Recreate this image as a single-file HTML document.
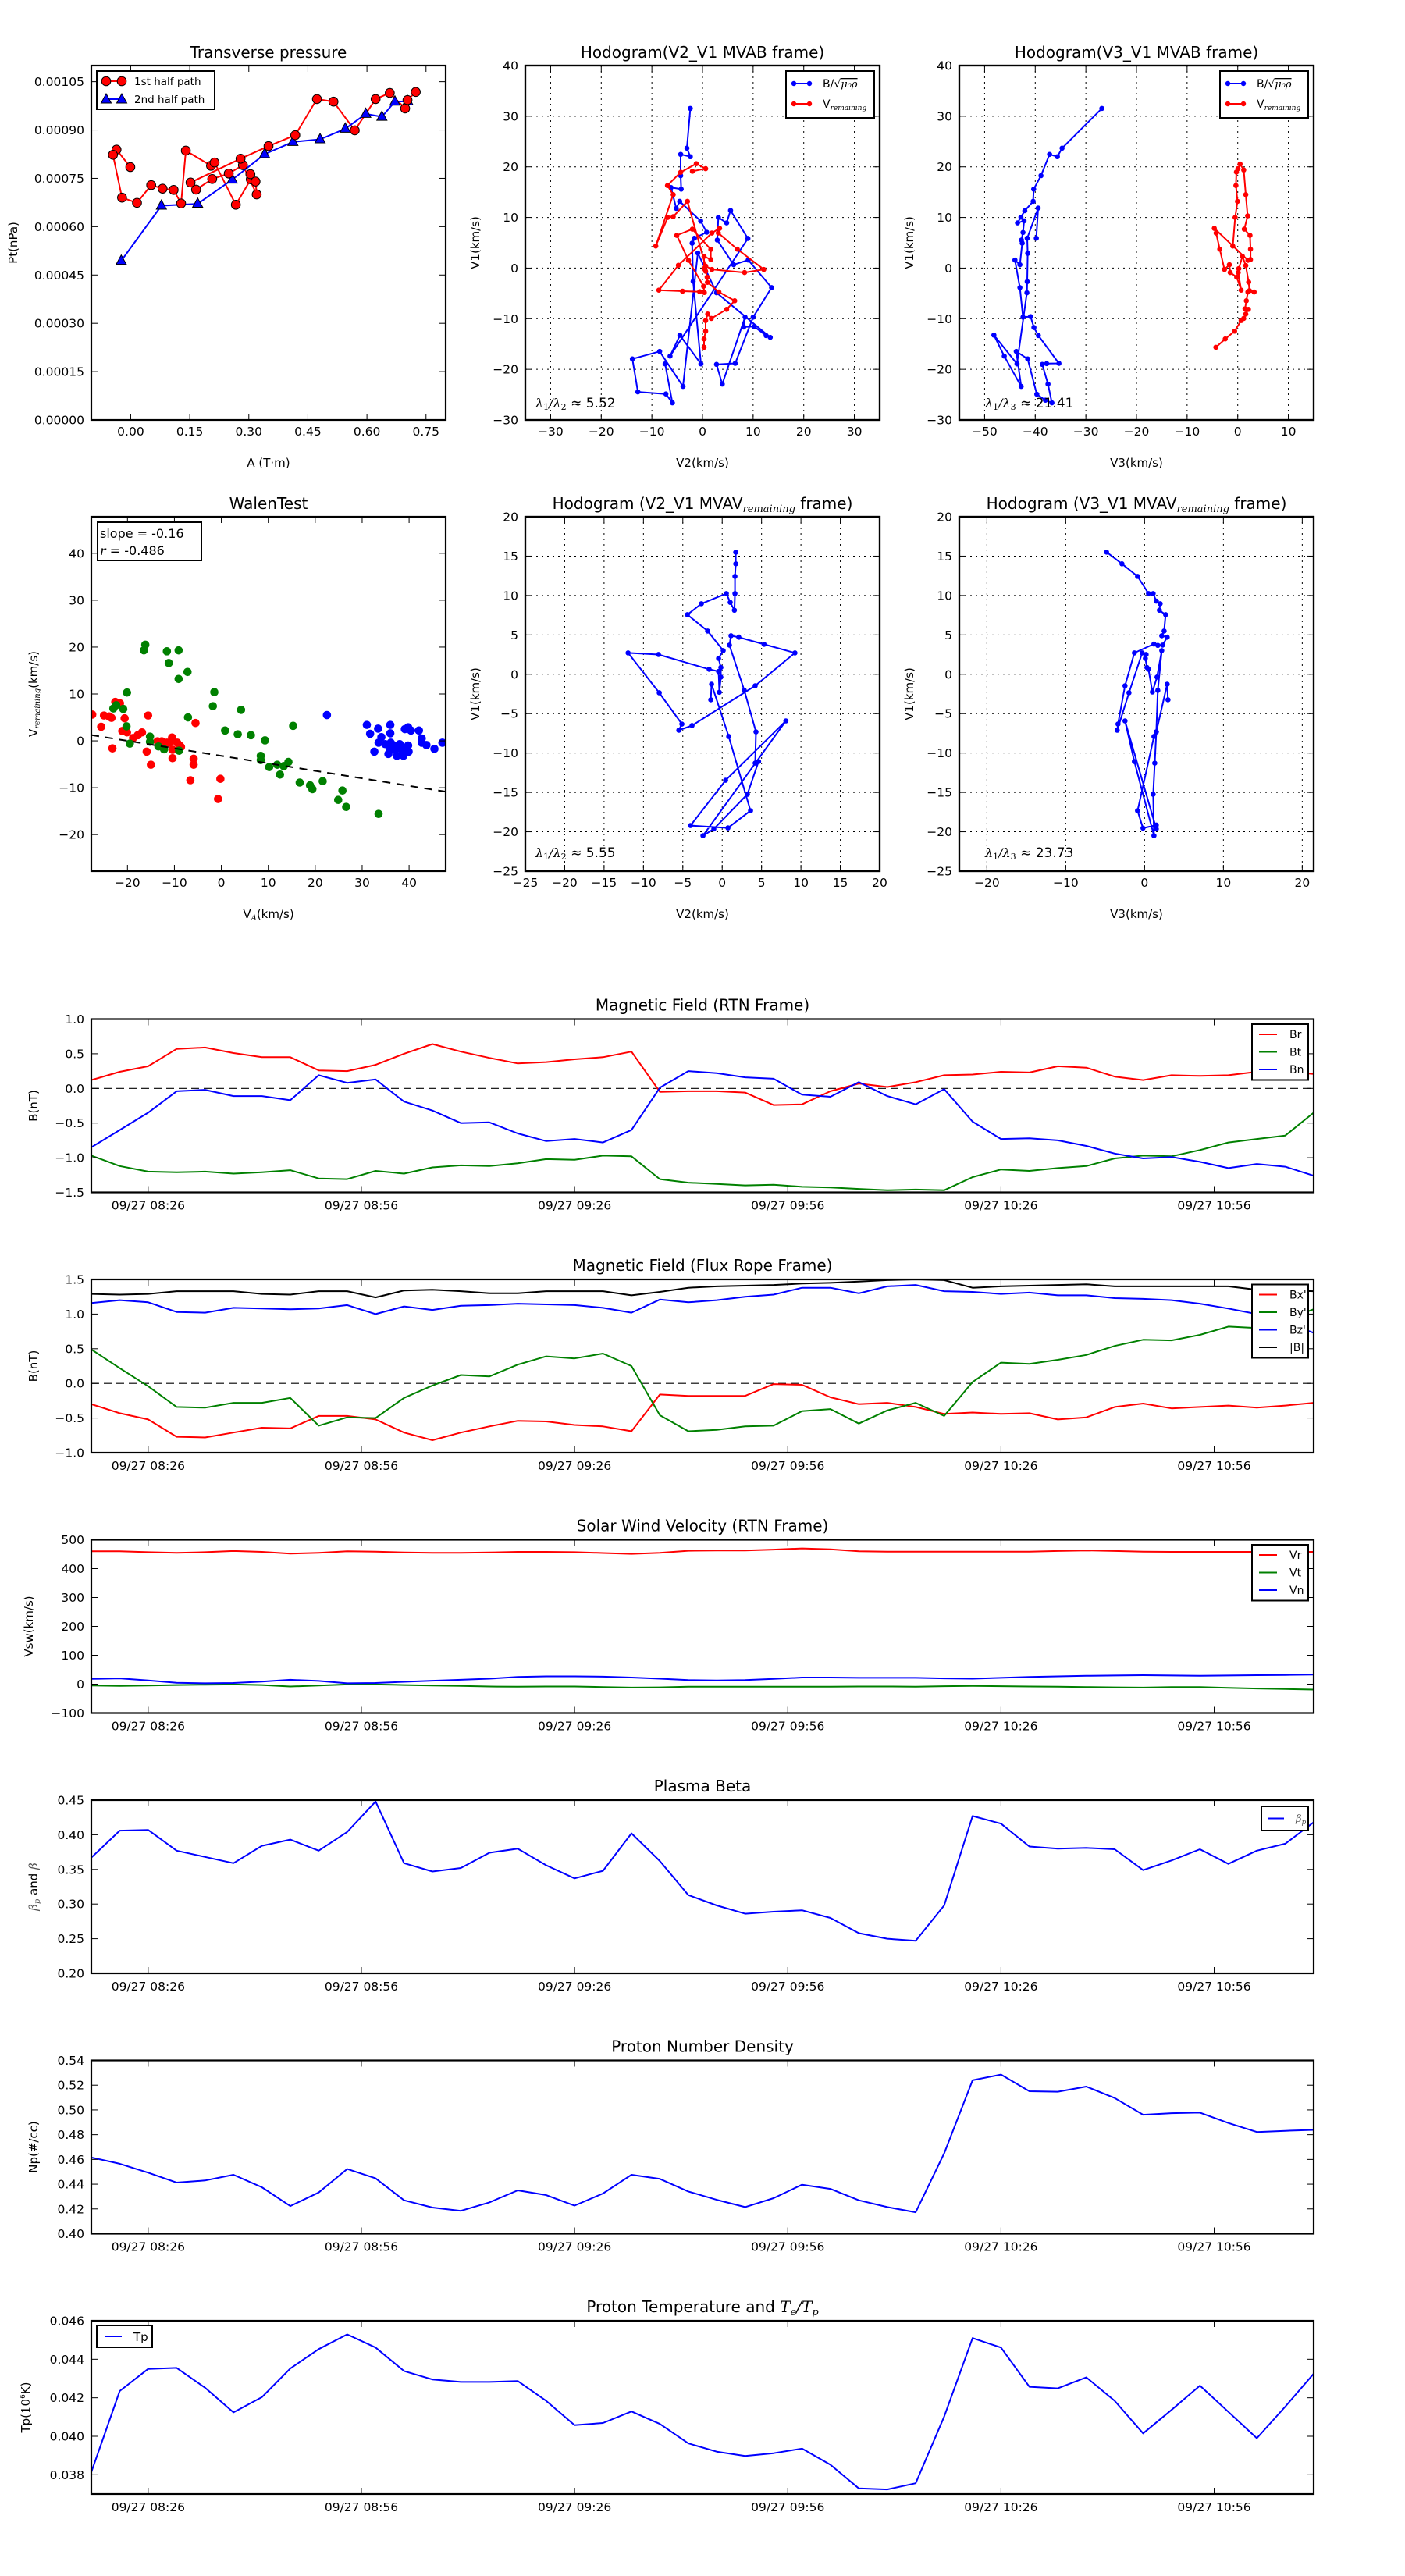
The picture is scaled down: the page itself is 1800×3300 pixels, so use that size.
<!DOCTYPE html>
<html><head><meta charset="utf-8">
<style>
body{margin:0;background:#fff}
svg{display:block;font-family:"DejaVu Sans","Liberation Sans",sans-serif}
</style></head>
<body>
<svg id="fig" width="1800" height="3300" viewBox="0 0 1800 3300"></svg>
<script>
// ---------------- DATA ----------------
// Transverse pressure
const ptFirstA=[-0.001,-0.036,-0.045,-0.022,0.016,0.052,0.081,0.109,0.128,0.140,0.204,0.213,0.267,0.305,0.304,0.317,0.320,0.285,0.249,0.207,0.166,0.152,0.279,0.350,0.418,0.473,0.515,0.569,0.622,0.658,0.697,0.703,0.724];
const ptFirstP=[0.000785,0.000839,0.000823,0.000690,0.000674,0.000729,0.000718,0.000714,0.000672,0.000836,0.000789,0.000799,0.000668,0.000747,0.000763,0.000740,0.000700,0.000791,0.000765,0.000748,0.000715,0.000737,0.000811,0.000850,0.000884,0.000996,0.000988,0.000899,0.000996,0.001015,0.000967,0.000993,0.001018];
const ptSecondA=[-0.024,0.078,0.170,0.258,0.340,0.412,0.481,0.545,0.597,0.638,0.671,0.704];
const ptSecondP=[0.000494,0.000665,0.000671,0.000746,0.000825,0.000863,0.000871,0.000904,0.000950,0.000941,0.000988,0.000989];
const ptXTicks=[0,0.15,0.30,0.45,0.60,0.75];
const ptXLabels=["0.00","0.15","0.30","0.45","0.60","0.75"];
const ptYTicks=[0,0.00015,0.0003,0.00045,0.0006,0.00075,0.0009,0.00105];
const ptYLabels=["0.00000","0.00015","0.00030","0.00045","0.00060","0.00075","0.00090","0.00105"];

// Hodogram V2_V1 MVAB
const h1BV2=[-2.41,-3.08,-2.41,-4.31,-4.31,-4.21,-6.21,-5.18,-4.51,-0.36,0.82,-1.59,-2.05,-1.85,-0.31,-4.46,-6.41,8.97,5.54,4.77,3.13,2.92,6.15,9.03,13.64,10.0,6.46,2.77,3.90,8.41,8.15,10.21,12.56,13.38,2.77,-0.92,-3.85,-8.46,-13.85,-12.77,-7.23,-5.95,-7.38];
const h1BV1=[31.54,23.69,22.0,22.46,18.26,15.59,15.90,11.79,13.18,9.28,7.08,5.90,4.92,-2.62,-18.92,-13.28,-17.38,5.85,11.38,8.92,10.0,5.54,0.67,1.59,-3.85,-9.69,-18.82,-19.03,-22.92,-9.69,-11.64,-11.54,-13.33,-13.69,-4.87,2.97,-23.38,-16.46,-17.95,-24.46,-24.87,-26.62,-18.92];
const h1VV2=[0.31,0.31,0.62,0.62,1.03,1.74,4.77,6.36,3.23,0.97,0.92,0.62,0.31,0.31,1.64,1.64,-2.0,-5.08,-2.77,0.21,0.36,-0.56,-3.95,-8.62,-4.77,1.85,3.38,3.13,6.87,12.10,8.31,1.85,0.62,-2.97,-5.79,-6.87,-9.23,-5.79,-6.92,-4.31,-1.23,0.62,-2.0];
const h1VV1=[-15.64,-14.0,-12.46,-10.36,-9.08,-9.95,-8.15,-6.46,-4.72,-2.82,-1.79,-0.62,-0.10,2.31,1.69,3.69,7.69,6.46,1.54,-3.59,-4.82,-4.67,-4.56,-4.36,0.56,6.92,7.85,6.92,3.74,-0.26,-0.87,-0.26,0.41,13.18,10.15,10.0,4.36,14.51,16.31,18.92,20.62,19.64,19.13];

// Hodogram V3_V1 MVAB
const h2BV3=[-26.84,-34.70,-35.63,-37.17,-38.87,-40.31,-40.41,-42.06,-42.83,-43.50,-42.21,-42.42,-42.72,-42.57,-43.03,-44.01,-43.03,-42.42,-40.93,-40.26,-39.38,-35.32,-37.74,-38.61,-37.48,-36.71,-37.99,-39.69,-41.49,-43.75,-42.78,-46.12,-48.17,-43.60,-41.65,-41.59,-41.49,-41.59,-39.43,-39.79];
const h2BV1=[31.54,23.69,22.0,22.46,18.26,15.59,13.18,11.33,10.05,8.92,9.33,7.03,5.54,4.92,0.67,1.59,-3.85,-9.69,-9.59,-11.74,-13.33,-18.82,-18.87,-19.03,-22.92,-26.62,-26.10,-24.92,-17.95,-16.46,-23.38,-17.38,-13.23,-18.92,-4.87,-2.67,2.92,5.90,11.85,5.90];
const h2VV3=[-4.32,-2.47,-0.62,0.67,1.18,1.59,2.11,1.44,1.70,2.01,3.24,2.31,2.16,1.59,0.93,0.21,0.10,0.67,-0.21,-1.49,-1.65,-2.62,-3.55,-4.27,-4.63,2.01,2.52,2.52,2.42,1.29,1.95,1.59,1.18,0.46,0.05,-0.26,-0.36,-0.05,-0.51,-0.98];
const h2VV1=[-15.64,-14.0,-12.46,-10.36,-9.95,-9.08,-8.15,-8.05,-6.46,-4.72,-4.72,-4.46,-2.77,0.51,2.31,-0.10,-0.87,-4.36,-1.79,-0.87,0.67,-0.26,3.74,6.92,7.85,1.54,1.69,3.74,6.46,7.69,10.31,14.51,19.38,20.56,19.64,18.97,16.31,13.18,10.0,4.36];

// Walen test
const walRedX=[-27.5,-25.6,-25.0,-23.9,-23.4,-23.2,-22.6,-21.6,-20.6,-21.1,-20.1,-18.8,-17.8,-16.9,-15.9,-15.6,-15.0,-13.6,-12.7,-11.6,-10.5,-10.4,-10.4,-9.4,-8.9,-8.6,-6.6,-5.9,-5.9,-5.5,-0.7,-0.2,-13.3,-11.1];
const walRedY=[5.6,3.0,5.4,5.2,4.9,-1.6,8.3,8.0,4.8,2.1,1.8,0.6,1.2,1.8,-2.3,5.4,-5.1,-0.1,-0.1,-0.4,0.7,-1.9,-3.7,-0.4,-1.0,-1.3,-8.4,-3.8,-5.1,3.8,-12.4,-8.1,-0.7,-0.4];
const walGreenX=[-20.1,-20.9,-23.0,-22.4,-20.2,-19.5,-16.5,-16.2,-15.2,-15.2,-13.4,-12.2,-11.6,-11.2,-9.1,-9.1,-9.0,-7.2,-7.1,-1.8,-1.5,0.8,3.5,4.2,6.3,9.3,8.4,8.4,10.2,11.9,12.5,13.3,14.3,15.3,16.7,18.9,19.4,21.6,24.9,25.8,26.6,33.5];
const walGreenY=[10.3,6.8,6.9,7.6,3.1,-0.6,19.3,20.5,0.9,-0.2,-1.2,-1.8,19.1,16.6,19.3,13.2,-2.1,14.7,5.0,7.4,10.4,2.2,1.4,6.6,1.2,0.1,-3.2,-4.1,-5.6,-5.1,-7.2,-5.4,-4.5,3.2,-8.9,-9.5,-10.3,-8.6,-12.6,-10.6,-14.1,-15.6];
const walBlueX=[22.5,31.0,31.7,33.4,34.1,33.5,32.6,36.0,36.0,35.6,36.1,37.1,37.4,38.0,38.8,39.6,39.8,39.9,39.1,39.8,40.4,42.1,42.7,42.7,43.7,45.4,47.1,36.0,36.9,38.5,34.9];
const walBlueY=[5.5,3.4,1.5,2.6,0.8,-0.4,-2.3,3.4,1.6,-2.8,-0.4,-1.8,-3.2,-0.7,-3.2,-1.8,-1.0,-2.3,2.5,2.9,2.2,2.2,0.5,-0.4,-0.9,-1.7,-0.4,-1.8,-1.0,-1.9,-0.7];
const walSlope=-0.16;
const walIntercept=-3.2;

// Hodogram MVAV V2_V1
const h4V2=[1.72,1.72,1.62,1.62,1.55,1.02,0.53,-2.64,-4.42,-1.85,0.13,-0.46,-0.17,-0.17,-0.36,-0.46,-1.65,-8.09,-11.95,-7.99,-5.12,-5.51,-3.83,4.19,9.24,5.32,2.11,1.12,0.92,2.81,4.29,4.19,4.62,3.20,-1.06,-2.44,8.09,0.43,-4.03,0.73,3.60,0.83,-1.35,-1.45];
const h4V1=[15.48,14.02,12.43,10.25,8.13,9.13,10.25,8.96,7.57,5.49,3.01,2.02,0.86,-0.36,-2.28,0.36,0.63,2.51,2.71,-2.35,-6.32,-7.11,-6.51,-1.46,2.71,3.80,4.70,4.89,3.70,-2.05,-7.31,-11.28,-11.08,-15.24,-19.64,-20.50,-5.92,-13.46,-19.21,-19.51,-17.33,-7.90,-1.26,-3.24];
// Hodogram MVAV V3_V1
const h5V3=[-4.82,-2.87,-0.89,0.50,1.09,1.49,1.98,1.88,2.67,2.48,2.18,2.87,2.28,1.68,1.19,-1.29,-2.48,-3.37,-3.47,-1.98,-0.30,0.20,0.10,0.30,0.50,0.99,1.58,2.18,1.68,1.49,1.19,-0.89,-0.20,1.49,1.49,-2.48,-1.29,1.19,1.09,1.29,1.49,2.87,2.97];
const h5V1=[15.51,14.02,12.43,10.25,10.25,9.29,8.96,8.13,7.57,5.49,4.89,4.70,3.70,3.67,3.84,2.71,-1.46,-6.32,-7.11,-2.35,2.71,2.51,2.02,0.86,0.63,-2.25,-0.36,3.01,-2.05,-7.31,-7.90,-17.33,-19.54,-19.15,-19.64,-5.92,-11.08,-20.50,-15.24,-11.28,-7.31,-1.26,-3.24];

// Time series (44 samples, 4-min cadence starting 08:18)
const tStartMin=8*60+18;
const tStepMin=4;
const tickTimes=["08:26","08:56","09:26","09:56","10:26","10:56"];
const Br=[0.12,0.24,0.32,0.57,0.59,0.51,0.45,0.45,0.26,0.25,0.34,0.50,0.64,0.53,0.44,0.36,0.38,0.42,0.45,0.53,-0.05,-0.04,-0.04,-0.06,-0.24,-0.23,-0.04,0.07,0.02,0.09,0.19,0.20,0.24,0.23,0.32,0.30,0.17,0.12,0.19,0.18,0.19,0.24,0.24,0.21];
const Bt=[-0.97,-1.12,-1.20,-1.21,-1.20,-1.23,-1.21,-1.18,-1.30,-1.31,-1.19,-1.23,-1.14,-1.11,-1.12,-1.08,-1.02,-1.03,-0.97,-0.98,-1.31,-1.36,-1.38,-1.40,-1.39,-1.42,-1.43,-1.45,-1.47,-1.46,-1.47,-1.28,-1.17,-1.19,-1.15,-1.12,-1.01,-0.97,-0.98,-0.89,-0.78,-0.73,-0.68,-0.35];
const Bn=[-0.85,-0.60,-0.35,-0.04,-0.02,-0.11,-0.11,-0.17,0.19,0.08,0.13,-0.19,-0.32,-0.50,-0.49,-0.65,-0.76,-0.73,-0.78,-0.60,0.01,0.25,0.22,0.16,0.14,-0.09,-0.12,0.09,-0.11,-0.23,-0.01,-0.48,-0.73,-0.72,-0.75,-0.83,-0.94,-1.01,-0.99,-1.06,-1.15,-1.09,-1.13,-1.26];
const Bxp=[-0.30,-0.43,-0.52,-0.77,-0.78,-0.71,-0.64,-0.65,-0.47,-0.47,-0.52,-0.71,-0.82,-0.71,-0.62,-0.54,-0.55,-0.60,-0.62,-0.69,-0.16,-0.18,-0.18,-0.18,-0.01,-0.02,-0.20,-0.30,-0.28,-0.34,-0.44,-0.42,-0.44,-0.43,-0.52,-0.49,-0.34,-0.29,-0.36,-0.34,-0.32,-0.35,-0.32,-0.28];
const Byp=[0.49,0.22,-0.04,-0.34,-0.35,-0.28,-0.28,-0.21,-0.61,-0.49,-0.50,-0.21,-0.03,0.12,0.10,0.27,0.39,0.36,0.43,0.25,-0.46,-0.69,-0.67,-0.62,-0.61,-0.40,-0.37,-0.58,-0.39,-0.28,-0.47,0.02,0.30,0.28,0.34,0.41,0.54,0.63,0.62,0.70,0.82,0.80,0.92,1.07];
const Bzp=[1.16,1.20,1.17,1.03,1.02,1.09,1.08,1.07,1.08,1.13,1.00,1.11,1.06,1.12,1.13,1.15,1.14,1.13,1.09,1.02,1.21,1.17,1.20,1.25,1.28,1.38,1.38,1.30,1.40,1.42,1.33,1.32,1.29,1.31,1.27,1.27,1.23,1.22,1.20,1.15,1.08,1.00,0.88,0.73];
const Bmag=[1.29,1.28,1.29,1.33,1.33,1.33,1.29,1.28,1.33,1.33,1.24,1.34,1.35,1.33,1.30,1.30,1.33,1.33,1.33,1.27,1.32,1.38,1.40,1.41,1.42,1.44,1.45,1.47,1.49,1.50,1.49,1.38,1.40,1.41,1.42,1.43,1.40,1.40,1.40,1.40,1.40,1.35,1.34,1.33];
const Vr=[460,460,457,455,457,461,458,452,455,460,459,456,455,455,456,458,458,457,454,451,455,462,463,463,466,470,467,460,459,459,459,459,459,459,461,463,461,459,458,458,458,458,458,458];
const Vt=[-5,-6,-5,-3,-2,-1,-3,-8,-5,-1,-1,-3,-5,-6,-8,-9,-8,-8,-10,-12,-11,-9,-9,-9,-9,-9,-9,-8,-8,-9,-7,-6,-7,-8,-9,-10,-11,-12,-10,-10,-13,-15,-17,-19];
const Vn=[18,20,13,5,3,4,9,15,11,3,4,8,12,15,19,25,27,27,26,23,19,14,13,14,18,23,23,22,22,22,20,19,22,25,27,29,30,31,30,29,30,31,32,33];
const betaP=[0.367,0.406,0.407,0.377,0.368,0.359,0.384,0.393,0.377,0.404,0.448,0.359,0.347,0.352,0.374,0.380,0.356,0.337,0.348,0.402,0.362,0.313,0.298,0.286,0.289,0.291,0.280,0.258,0.250,0.247,0.298,0.427,0.416,0.383,0.380,0.381,0.379,0.349,0.363,0.379,0.358,0.377,0.387,0.418];
const Np=[0.4616,0.4565,0.4493,0.4413,0.4430,0.4476,0.4375,0.4223,0.4333,0.4523,0.4447,0.4270,0.4211,0.4185,0.4253,0.4350,0.4312,0.4227,0.4325,0.4476,0.4443,0.4341,0.4274,0.4215,0.4287,0.4396,0.4362,0.4270,0.4215,0.4173,0.4649,0.5240,0.5286,0.5151,0.5147,0.5189,0.5096,0.4961,0.4974,0.4978,0.4894,0.4822,0.4831,0.4839];
const Tp=[0.03814,0.04235,0.0435,0.04355,0.04252,0.04124,0.04203,0.04352,0.04453,0.04529,0.04461,0.04339,0.04295,0.04282,0.04282,0.04287,0.04184,0.04058,0.04069,0.04129,0.04064,0.03963,0.0392,0.03898,0.03912,0.03936,0.03852,0.03729,0.03724,0.03756,0.04102,0.0451,0.04461,0.04257,0.04249,0.04306,0.04184,0.04015,0.04137,0.04263,0.04127,0.0399,0.04154,0.04325];

// ---------------- DRAWING ----------------
const NS='http://www.w3.org/2000/svg';
const svg=document.getElementById('fig');
function mk(tag,parent){const e=document.createElementNS(NS,tag);parent.appendChild(e);return e;}
function set(e,o){for(const k in o)e.setAttribute(k,o[k]);return e;}
function lin(d0,d1,r0,r1){return v=>r0+(v-d0)/(d1-d0)*(r1-r0);}
let clipN=0;

function axes(name,x0,y0,w,h,xmin,xmax,ymin,ymax){
  const g=mk('g',svg);
  
  
  const id='clip'+(clipN++);
  const cp=mk('clipPath',g);cp.setAttribute('id',id);
  set(mk('rect',cp),{x:x0,y:y0,width:w,height:h});
  const plot=mk('g',g);
  
  
  plot.setAttribute('clip-path','url(#'+id+')');
  return {g,plot,x0,y0,w,h,sx:lin(xmin,xmax,x0,x0+w),sy:lin(ymin,ymax,y0+h,y0)};
}
function frame(ax,xt,xl,yt,yl,opt){
  opt=opt||{};
  const {g,x0,y0,w,h}=ax;
  const fs=opt.fs||15.5, xoff=opt.xoff||20;
  if(opt.grid){
    xt.forEach(v=>{const x=ax.sx(v);if(x>x0+1&&x<x0+w-1){const l=set(mk('line',ax.plot),{x1:x,x2:x,y1:y0,y2:y0+h,stroke:'#000','stroke-width':1,'stroke-dasharray':'2,5'});
      }});
    yt.forEach(v=>{const y=ax.sy(v);if(y>y0+1&&y<y0+h-1){const l=set(mk('line',ax.plot),{x1:x0,x2:x0+w,y1:y,y2:y,stroke:'#000','stroke-width':1,'stroke-dasharray':'2,5'});
      }});
  }
  xt.forEach((v,i)=>{const x=ax.sx(v);
    const a=set(mk('line',g),{x1:x,x2:x,y1:y0+h,y2:y0+h-8,stroke:'#000','stroke-width':1});
    
    const b=set(mk('line',g),{x1:x,x2:x,y1:y0,y2:y0+8,stroke:'#000','stroke-width':1});
    
    const t=set(mk('text',g),{x:x,y:y0+h+xoff,'text-anchor':'middle','font-size':fs});
    t.textContent=xl[i];
    
    
  });
  yt.forEach((v,i)=>{const y=ax.sy(v);
    const a=set(mk('line',g),{x1:x0,x2:x0+8,y1:y,y2:y,stroke:'#000','stroke-width':1});
    
    const b=set(mk('line',g),{x1:x0+w,x2:x0+w-8,y1:y,y2:y,stroke:'#000','stroke-width':1});
    
    const t=set(mk('text',g),{x:x0-9,y:y+5.5,'text-anchor':'end','font-size':fs});
    t.textContent=yl[i];
    
    
  });
  const r=set(mk('rect',g),{x:x0,y:y0,width:w,height:h,fill:'none',stroke:'#000','stroke-width':2.2});
  
  
}
function poly(ax,xs,ys,color,width,fx,fy){
  const pts=xs.map((v,i)=>(fx?fx(v,i):ax.sx(v)).toFixed(1)+','+(fy?fy(ys[i]):ax.sy(ys[i])).toFixed(1)).join(' ');
  return set(mk('polyline',ax.plot),{points:pts,fill:'none',stroke:color,'stroke-width':width,'stroke-linejoin':'round'});
}
function dots(ax,xs,ys,color,r,stroke){
  const out=[];
  xs.forEach((v,i)=>{const c=set(mk('circle',ax.plot),{cx:ax.sx(v),cy:ax.sy(ys[i]),r:r,fill:color});
    if(stroke){c.setAttribute('stroke',stroke);c.setAttribute('stroke-width',1);}
    out.push(c);});
  return out;
}
function text(parent,x,y,str,o){const t=set(mk('text',parent),Object.assign({x:x,y:y},o||{}));t.textContent=str;return t;}
function sub(t,str,o){const s=set(mk('tspan',t),o||{});s.textContent=str;return s;}
function ylab(ax,x,str){const t=text(ax.g,x,ax.y0+ax.h/2,str,{'text-anchor':'middle','font-size':15,transform:'rotate(-90 '+x+' '+(ax.y0+ax.h/2)+')'});return t;}
const mathI={'font-family':'"DejaVu Serif","Liberation Serif",serif','font-style':'italic'};

// ===== Transverse pressure =====
(function(){
  const ax=axes('transverse-pressure-chart',117,84,454,454,-0.1,0.8,0,0.0011);
  const l1=poly(ax,ptFirstA,ptFirstP,'#ff0000',2);
  
  const l2=poly(ax,ptSecondA,ptSecondP,'#0000ff',2);
  
  ptSecondA.forEach((v,i)=>{const x=ax.sx(v),y=ax.sy(ptSecondP[i]);
    const p=set(mk('polygon',ax.plot),{points:`${x},${y-7.5} ${x-6.5},${y+4.5} ${x+6.5},${y+4.5}`,fill:'#0000ff',stroke:'#000','stroke-width':1});
    });
  const cs=dots(ax,ptFirstA,ptFirstP,'#ff0000',5.8,'#000');
  cs.forEach(c=>{});
  frame(ax,ptXTicks,ptXLabels,ptYTicks,ptYLabels);
  const t=text(ax.g,344,74,'Transverse pressure',{'text-anchor':'middle','font-size':20});
  
  const xl=text(ax.g,344,598,'A (T·m)',{'text-anchor':'middle','font-size':15});
  
  const yl=ylab(ax,22,'Pt(nPa)');
  
  const lg=mk('g',ax.g);
  
  
  set(mk('rect',lg),{x:124,y:91,width:151,height:49,fill:'#fff',stroke:'#000','stroke-width':2});
  set(mk('line',lg),{x1:136,x2:156,y1:104,y2:104,stroke:'#f00','stroke-width':2});
  set(mk('circle',lg),{cx:136,cy:104,r:5.8,fill:'#f00',stroke:'#000'});
  set(mk('circle',lg),{cx:156,cy:104,r:5.8,fill:'#f00',stroke:'#000'});
  const e1=text(lg,172,109,'1st half path',{'font-size':13.5});
  
  set(mk('line',lg),{x1:136,x2:156,y1:127,y2:127,stroke:'#00f','stroke-width':2});
  set(mk('polygon',lg),{points:'136,120 129.5,132 142.5,132',fill:'#00f',stroke:'#000'});
  set(mk('polygon',lg),{points:'156,120 149.5,132 162.5,132',fill:'#00f',stroke:'#000'});
  const e2=text(lg,172,132,'2nd half path',{'font-size':13.5});
  
})();

function hodLegend(ax,x0,withRed){
  const lg=mk('g',ax.g);
  
  
  set(mk('rect',lg),{x:x0,y:91,width:113,height:60,fill:'#fff',stroke:'#000','stroke-width':2});
  set(mk('line',lg),{x1:x0+10,x2:x0+30,y1:107,y2:107,stroke:'#00f','stroke-width':2});
  set(mk('circle',lg),{cx:x0+10,cy:107,r:3.2,fill:'#00f'});
  set(mk('circle',lg),{cx:x0+30,cy:107,r:3.2,fill:'#00f'});
  const t1=text(lg,x0+47,112,'B/',{'font-size':14});
  sub(t1,'√');
  sub(t1,'μ₀ρ',Object.assign({'text-decoration':'overline','font-size':13},mathI));
  
  set(mk('line',lg),{x1:x0+10,x2:x0+30,y1:133,y2:133,stroke:'#f00','stroke-width':2});
  set(mk('circle',lg),{cx:x0+10,cy:133,r:3.2,fill:'#f00'});
  set(mk('circle',lg),{cx:x0+30,cy:133,r:3.2,fill:'#f00'});
  const t2=text(lg,x0+47,138,'V',{'font-size':14});
  sub(t2,'remaining',Object.assign({'font-size':9,dy:3},mathI));
  
}
function hodTitle(ax,y,main,subs,tail){
  const t=text(ax.g,ax.x0+ax.w/2,y,main,{'text-anchor':'middle','font-size':20});
  if(subs){sub(t,subs,Object.assign({'font-size':13,dy:4},mathI));sub(t,tail,{dy:-4});}
  
  return t;
}
function ratioText(ax,x,y,l2,val){
  const t=text(ax.g,x,y,'λ',Object.assign({'font-size':16},mathI));
  sub(t,'1',{'font-size':11,dy:3,'font-style':'normal'});
  sub(t,'/λ',{dy:-3});
  sub(t,l2,{'font-size':11,dy:3,'font-style':'normal'});
  const s=sub(t,' ≈ '+val,{dy:-3,'font-style':'normal','font-family':'"DejaVu Sans",sans-serif','font-size':17});
  
}
const hTicks40=[-30,-20,-10,0,10,20,30,40];
const hLab40=hTicks40.map(v=>v<0?'−'+(-v):String(v));

// ===== Hodogram V2_V1 MVAB =====
(function(){
  const ax=axes('hodogram-v2-v1-mvab',673,84,454,454,-35,35,-30,40);
  const xt=[-30,-20,-10,0,10,20,30];
  frame(ax,xt,xt.map(v=>v<0?'−'+(-v):String(v)),hTicks40,hLab40,{grid:true});
  const lb=poly(ax,h1BV2,h1BV1,'#00f',2);
  
  dots(ax,h1BV2,h1BV1,'#00f',3.3).forEach(c=>{});
  const lr=poly(ax,h1VV2,h1VV1,'#f00',2);
  
  dots(ax,h1VV2,h1VV1,'#f00',3.3).forEach(c=>{});
  set(mk('rect',ax.g),{x:ax.x0,y:ax.y0,width:ax.w,height:ax.h,fill:'none',stroke:'#000','stroke-width':2.2});
  hodTitle(ax,74,'Hodogram(V2_V1 MVAB frame)');
  const xl=text(ax.g,900,598,'V2(km/s)',{'text-anchor':'middle','font-size':15});
  
  const yl=ylab(ax,614,'V1(km/s)');
  
  hodLegend(ax,1007);
  ratioText(ax,686,522,'2','5.52');
})();

// ===== Hodogram V3_V1 MVAB =====
(function(){
  const ax=axes('hodogram-v3-v1-mvab',1229,84,454,454,-55,15,-30,40);
  const xt=[-50,-40,-30,-20,-10,0,10];
  frame(ax,xt,xt.map(v=>v<0?'−'+(-v):String(v)),hTicks40,hLab40,{grid:true});
  const lb=poly(ax,h2BV3,h2BV1,'#00f',2);
  
  dots(ax,h2BV3,h2BV1,'#00f',3.3).forEach(c=>{});
  const lr=poly(ax,h2VV3,h2VV1,'#f00',2);
  
  dots(ax,h2VV3,h2VV1,'#f00',3.3).forEach(c=>{});
  set(mk('rect',ax.g),{x:ax.x0,y:ax.y0,width:ax.w,height:ax.h,fill:'none',stroke:'#000','stroke-width':2.2});
  hodTitle(ax,74,'Hodogram(V3_V1 MVAB frame)');
  const xl=text(ax.g,1456,598,'V3(km/s)',{'text-anchor':'middle','font-size':15});
  
  const yl=ylab(ax,1170,'V1(km/s)');
  
  hodLegend(ax,1563);
  ratioText(ax,1262,522,'3','21.41');
})();

// ===== Walen test =====
(function(){
  const ax=axes('walen-test-chart',117,662,454,454,-27.7,47.8,-27.8,47.8);
  const xt=[-20,-10,0,10,20,30,40], yt=[-20,-10,0,10,20,30,40];
  const lbl=v=>v<0?'−'+(-v):String(v);
  dots(ax,walRedX,walRedY,'#f00',5.3).forEach(c=>{});
  dots(ax,walGreenX,walGreenY,'#008000',5.3).forEach(c=>{});
  dots(ax,walBlueX,walBlueY,'#00f',5.3).forEach(c=>{});
  const fx=[-27.7,47.8];
  const fit=set(mk('line',ax.plot),{x1:ax.sx(fx[0]),y1:ax.sy(walSlope*fx[0]+walIntercept),x2:ax.sx(fx[1]),y2:ax.sy(walSlope*fx[1]+walIntercept),stroke:'#000','stroke-width':2,'stroke-dasharray':'10,8'});
  
  frame(ax,xt,xt.map(lbl),yt,yt.map(lbl));
  const t=text(ax.g,344,652,'WalenTest',{'text-anchor':'middle','font-size':20});
  
  const xl=text(ax.g,344,1176,'V',{'text-anchor':'middle','font-size':15});
  sub(xl,'A',Object.assign({'font-size':10,dy:3},mathI));
  sub(xl,'(km/s)',{dy:-3});
  
  const yl=ylab(ax,48,'V');
  sub(yl,'remaining',Object.assign({'font-size':10,dy:3},mathI));
  sub(yl,'(km/s)',{dy:-3});
  
  const box=mk('g',ax.g);
  
  
  set(mk('rect',box),{x:125,y:669,width:133,height:49,fill:'#fff',stroke:'#000','stroke-width':2});
  const s1=text(box,128,689,'slope = -0.16',{'font-size':16});
  
  const s2=text(box,128,711,'r',Object.assign({'font-size':16},mathI));
  sub(s2,' = -0.486',{'font-style':'normal','font-family':'"DejaVu Sans",sans-serif'});
  
})();

// ===== Hodogram MVAV V2_V1 =====
const t5=[-25,-20,-15,-10,-5,0,5,10,15,20];
const l5=t5.map(v=>v<0?'−'+(-v):String(v));
(function(){
  const ax=axes('hodogram-v2-v1-mvav',673,662,454,454,-25,20,-25,20);
  frame(ax,t5,l5,t5,l5,{grid:true});
  const lb=poly(ax,h4V2,h4V1,'#00f',2);
  
  dots(ax,h4V2,h4V1,'#00f',3.3).forEach(c=>{});
  set(mk('rect',ax.g),{x:ax.x0,y:ax.y0,width:ax.w,height:ax.h,fill:'none',stroke:'#000','stroke-width':2.2});
  hodTitle(ax,652,'Hodogram (V2_V1 MVAV','remaining',' frame)');
  const xl=text(ax.g,900,1176,'V2(km/s)',{'text-anchor':'middle','font-size':15});
  
  const yl=ylab(ax,614,'V1(km/s)');
  
  ratioText(ax,686,1098,'2','5.55');
})();
// ===== Hodogram MVAV V3_V1 =====
(function(){
  const ax=axes('hodogram-v3-v1-mvav',1229,662,454,454,-23.5,21.45,-25,20);
  const xt=[-20,-10,0,10,20];
  frame(ax,xt,xt.map(v=>v<0?'−'+(-v):String(v)),t5,l5,{grid:true});
  const lb=poly(ax,h5V3,h5V1,'#00f',2);
  
  dots(ax,h5V3,h5V1,'#00f',3.3).forEach(c=>{});
  set(mk('rect',ax.g),{x:ax.x0,y:ax.y0,width:ax.w,height:ax.h,fill:'none',stroke:'#000','stroke-width':2.2});
  hodTitle(ax,652,'Hodogram (V3_V1 MVAV','remaining',' frame)');
  const xl=text(ax.g,1456,1176,'V3(km/s)',{'text-anchor':'middle','font-size':15});
  
  const yl=ylab(ax,1170,'V1(km/s)');
  
  ratioText(ax,1262,1098,'3','23.73');
})();

// ===== Time series panels =====
const N=Br.length;
const idx=Br.map((v,i)=>i);
const tickIdx=tickTimes.map(s=>{const [h,m]=s.split(':').map(Number);return (h*60+m-tStartMin)/tStepMin;});
const tickLab=tickTimes.map(s=>'09/27 '+s);
function tpanel(name,k,ymin,ymax,yt,yl){
  const top=1305.5+k*333.5;
  const ax=axes(name,117,top,1566,222,0,N-1,ymin,ymax);
  return ax;
}
function tframe(ax,yt,yl){frame(ax,tickIdx,tickLab,yt,yl,{fs:15.5,xoff:22});}
function ttitle(ax,str){const t=text(ax.g,900,ax.y0-11,str,{'text-anchor':'middle','font-size':20});return t;}
function zeroLine(ax){const l=set(mk('line',ax.plot),{x1:ax.x0,x2:ax.x0+ax.w,y1:ax.sy(0),y2:ax.sy(0),stroke:'#000','stroke-width':1.2,'stroke-dasharray':'10,6'});}
function tlegend(ax,x0,w,entries,fs){
  const lg=mk('g',ax.g);
  
  
  const h=entries.length*22.5+4;
  set(mk('rect',lg),{x:x0,y:ax.y0+6.5,width:w,height:h,fill:'#fff',stroke:'#000','stroke-width':2});
  entries.forEach((e,i)=>{const y=ax.y0+19.5+i*22.5;
    set(mk('line',lg),{x1:x0+9,x2:x0+32,y1:y,y2:y,stroke:e[1],'stroke-width':2});
    const t=text(lg,x0+48,y+5,e[0],{'font-size':fs||14});
    
  });
  return lg;
}
function series(ax,vals,color,name){const p=poly(ax,idx,vals,color,2);return p;}
const f1=v=>v<0?'−'+(-v).toFixed(1):v.toFixed(1);

// RTN field
(function(){
  const yt=[-1.5,-1.0,-0.5,0,0.5,1.0];
  const ax=tpanel('magnetic-field-rtn-chart',0,-1.5,1.0);
  zeroLine(ax);
  series(ax,Br,'#f00','br-line');
  series(ax,Bt,'#008000','bt-line');
  series(ax,Bn,'#00f','bn-line');
  tframe(ax,yt,yt.map(f1));
  ttitle(ax,'Magnetic Field (RTN Frame)');
  const yl=ylab(ax,48,'B(nT)');
  tlegend(ax,1604,72,[['Br','#f00'],['Bt','#008000'],['Bn','#00f']]);
})();
// Flux rope field
(function(){
  const yt=[-1.0,-0.5,0,0.5,1.0,1.5];
  const ax=tpanel('magnetic-field-flux-rope-chart',1,-1.0,1.5);
  zeroLine(ax);
  series(ax,Bxp,'#f00','bx-prime-line');
  series(ax,Byp,'#008000','by-prime-line');
  series(ax,Bzp,'#00f','bz-prime-line');
  series(ax,Bmag,'#000','b-magnitude-line');
  tframe(ax,yt,yt.map(f1));
  ttitle(ax,'Magnetic Field (Flux Rope Frame)');
  const yl=ylab(ax,48,'B(nT)');
  tlegend(ax,1604,72,[["Bx'",'#f00'],["By'",'#008000'],["Bz'",'#00f'],['|B|','#000']]);
})();
// Solar wind velocity
(function(){
  const yt=[-100,0,100,200,300,400,500];
  const ax=tpanel('solar-wind-velocity-chart',2,-100,500);
  series(ax,Vr,'#f00','vr-line');
  series(ax,Vt,'#008000','vt-line');
  series(ax,Vn,'#00f','vn-line');
  tframe(ax,yt,yt.map(v=>v<0?'−'+(-v):String(v)));
  ttitle(ax,'Solar Wind Velocity (RTN Frame)');
  const yl=ylab(ax,42,'Vsw(km/s)');
  tlegend(ax,1604,72,[['Vr','#f00'],['Vt','#008000'],['Vn','#00f']]);
})();
// Plasma beta
(function(){
  const yt=[0.20,0.25,0.30,0.35,0.40,0.45];
  const ax=tpanel('plasma-beta-chart',3,0.20,0.45);
  series(ax,betaP,'#00f','beta-p-line');
  tframe(ax,yt,yt.map(v=>v.toFixed(2)));
  ttitle(ax,'Plasma Beta');
  const yc=ax.y0+ax.h/2;
  const yl=text(ax.g,48,yc,'β',Object.assign({'text-anchor':'middle','font-size':15,transform:'rotate(-90 48 '+yc+')',fill:'#555'},mathI));
  sub(yl,'p',{'font-size':10,dy:3});
  sub(yl,' and ',{dy:-3,'font-style':'normal','font-family':'"DejaVu Sans",sans-serif',fill:'#000'});
  sub(yl,'β');
  
  const lg=mk('g',ax.g);
  
  
  set(mk('rect',lg),{x:1616,y:ax.y0+8,width:60,height:31,fill:'#fff',stroke:'#000','stroke-width':2});
  set(mk('line',lg),{x1:1625,x2:1645,y1:ax.y0+23.5,y2:ax.y0+23.5,stroke:'#00f','stroke-width':2});
  const lt=text(lg,1660,ax.y0+28,'β',Object.assign({'font-size':13,fill:'#555'},mathI));
  sub(lt,'p',{'font-size':9,dy:3});
  
})();
// Proton density
(function(){
  const yt=[0.40,0.42,0.44,0.46,0.48,0.50,0.52,0.54];
  const ax=tpanel('proton-density-chart',4,0.40,0.54);
  series(ax,Np,'#00f','np-line');
  tframe(ax,yt,yt.map(v=>v.toFixed(2)));
  ttitle(ax,'Proton Number Density');
  const yl=ylab(ax,48,'Np(#/cc)');
})();
// Proton temperature
(function(){
  const yt=[0.038,0.040,0.042,0.044,0.046];
  const ax=tpanel('proton-temperature-chart',5,0.037,0.046);
  series(ax,Tp,'#00f','tp-line');
  tframe(ax,yt,yt.map(v=>v.toFixed(3)));
  const t=ttitle(ax,'Proton Temperature and ');
  sub(t,'T',mathI);
  sub(t,'e',Object.assign({'font-size':13,dy:4},mathI));
  sub(t,'/',Object.assign({dy:-4},mathI));
  sub(t,'T',mathI);
  sub(t,'p',Object.assign({'font-size':13,dy:4},mathI));
  const yl=ylab(ax,38,'Tp(');
  sub(yl,'10',{'font-family':'"DejaVu Serif",serif'});
  sub(yl,'6',{'font-size':9,dy:-6});
  sub(yl,'K)',{dy:6});
  
  const lg=mk('g',ax.g);
  
  
  set(mk('rect',lg),{x:124,y:2979,width:71,height:28,fill:'#fff',stroke:'#000','stroke-width':2});
  set(mk('line',lg),{x1:134,x2:156,y1:2993,y2:2993,stroke:'#00f','stroke-width':2});
  const lt=text(lg,171,2999,'Tp',{'font-size':15});
  
})();
</script>
</body></html>
